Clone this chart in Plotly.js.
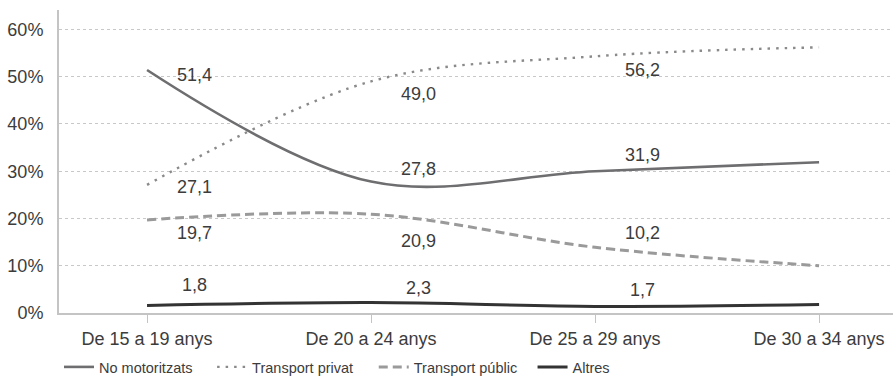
<!DOCTYPE html>
<html>
<head>
<meta charset="utf-8">
<script src="https://cdn.plot.ly/plotly-3.0.1.min.js"></script>
<style>html,body{margin:0;padding:0;background:#fff;}#chart{width:896px;height:376px;}</style>
</head>
<body>
<div id="chart"></div>
<script>
// Categories (x axis)
const categories = ["De 15 a 19 anys", "De 20 a 24 anys", "De 25 a 29 anys", "De 30 a 34 anys"];

// Series values (percent)
const noMotoritzats   = [51.4, 27.8, 30.0, 31.9];
const transportPrivat = [27.1, 49.0, 54.3, 56.2];
const transportPublic = [19.7, 20.9, 13.9, 10.0];
const altres          = [1.6, 2.2, 1.4, 1.8];

// Data labels as printed on the chart
const labelsNoMotoritzats   = [51.4, 27.8, 31.9];
const labelsTransportPrivat = [27.1, 49.0, 56.2];
const labelsTransportPublic = [19.7, 20.9, 10.2];
const labelsAltres          = [1.8, 2.3, 1.7];

const seriesNames = ["No motoritzats", "Transport privat", "Transport públic", "Altres"];

// y-axis ticks
const yTicks = [0, 10, 20, 30, 40, 50, 60];
const yTickText = ["0%", "10%", "20%", "30%", "40%", "50%", "60%"];

const FONT = "Liberation Sans, Arial, sans-serif";
const TXT = "#3c3c3c";

const styles = [
  {color: "#6e6e70", width: 2.6, dash: "solid"},
  {color: "#8a8a8a", width: 2.4, dash: "2.5px,6px"},
  {color: "#9a9a9a", width: 3, dash: "9px,5px"},
  {color: "#333333", width: 3, dash: "solid"}
];

const legendIds = ["legend", "legend2", "legend3", "legend4"];
const legendX = [0.0, 0.1836, 0.3774, 0.5678];

const allSeries = [noMotoritzats, transportPrivat, transportPublic, altres];
const traces = allSeries.map((vals, i) => ({
  type: "scatter",
  mode: "lines",
  name: seriesNames[i],
  legend: legendIds[i],
  x: categories,
  y: vals,
  line: {color: styles[i].color, width: styles[i].width, dash: styles[i].dash, shape: "spline", smoothing: 1},
  hoverinfo: "skip"
}));

// label vertical offsets (pixels) relative to the labelled value
const labelShifts = [
  [-5, 13, 7],
  [-2, -13, -23],
  [-13, -27, 32],
  [19, 14, 15]
];
const allLabels = [labelsNoMotoritzats, labelsTransportPrivat, labelsTransportPublic, labelsAltres];
const annotations = [];
allLabels.forEach((labs, s) => {
  labs.forEach((v, j) => {
    annotations.push({
      xref: "x", yref: "y",
      x: j, y: v,
      xshift: 47, yshift: labelShifts[s][j],
      text: v.toFixed(1).replace(".", ","),
      showarrow: false,
      xanchor: "center", yanchor: "middle",
      font: {family: FONT, size: 18, color: TXT}
    });
  });
});

const layout = {
  width: 896, height: 376,
  margin: {l: 59, r: 3, t: 10, b: 63},
  paper_bgcolor: "#ffffff",
  plot_bgcolor: "#ffffff",
  showlegend: true,
  xaxis: {
    type: "category",
    range: [-0.393, 3.33],
    showgrid: false,
    zeroline: false,
    showline: true,
    linecolor: "#c4c4c4",
    linewidth: 2,
    ticks: "outside",
    ticklen: 8,
    tickwidth: 1,
    tickcolor: "#c4c4c4",
    tickfont: {family: FONT, size: 18, color: TXT},
    fixedrange: true,
    automargin: false
  },
  yaxis: {
    range: [0, 64.1],
    tickvals: yTicks,
    ticktext: yTickText,
    showgrid: true,
    gridcolor: "#c8c8c8",
    gridwidth: 1,
    griddash: "3px,3px",
    zeroline: false,
    showline: true,
    linecolor: "#c4c4c4",
    linewidth: 2,
    ticks: "",
    ticklabelstandoff: 10,
    tickfont: {family: FONT, size: 18, color: TXT},
    fixedrange: true,
    automargin: false
  },
  annotations: annotations
};

legendIds.forEach((id, i) => {
  layout[id] = {
    orientation: "h",
    x: legendX[i], xanchor: "left",
    yref: "container",
    y: 0.024, yanchor: "middle",
    font: {family: FONT, size: 14.5, color: TXT},
    bgcolor: "rgba(0,0,0,0)",
    borderwidth: 0
  };
});

Plotly.newPlot("chart", traces, layout, {displayModeBar: false, staticPlot: true});
</script>
</body>
</html>
